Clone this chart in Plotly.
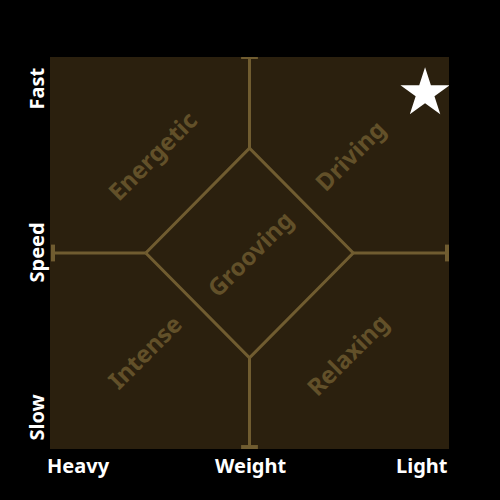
import plotly.graph_objects as go

# axes: weight (heavy -> light) and speed (slow -> fast), both -1..1
x_labels = ["Heavy", "Weight", "Light"]
y_labels = ["Slow", "Speed", "Fast"]

# diamond outline (Grooving zone)
diamond_x = [-0.52, 0, 0.52, 0, -0.52]
diamond_y = [0, 0.535, 0, -0.535, 0]

# spokes from diamond to the axis ends
spokes = [
    ([0, 0], [0.535, 1.0]),
    ([0, 0], [-0.535, -0.99]),
    ([-0.52, -0.985], [0, 0]),
    ([0.52, 0.99], [0, 0]),
]
caps_x = [0, 0, -0.985, 0.99]
caps_y = [1.0, -0.99, 0, 0]
caps_sym = ["line-ew", "line-ew", "line-ns", "line-ns"]

moods = ["Energetic", "Driving", "Grooving", "Intense", "Relaxing"]
mood_x = [-0.49, 0.5, 0.0, -0.525, 0.49]
mood_y = [0.5, 0.5, 0.0, -0.505, -0.52]

# current track position
star_x = [0.88]
star_y = [0.815]

line_col = "#705c30"
text_col = "#625029"

fig = go.Figure()

fig.add_trace(go.Scatter(x=diamond_x, y=diamond_y, mode="lines",
                         line=dict(color=line_col, width=3), hoverinfo="skip"))
for sx, sy in spokes:
    fig.add_trace(go.Scatter(x=sx, y=sy, mode="lines",
                             line=dict(color=line_col, width=3), hoverinfo="skip"))
fig.add_trace(go.Scatter(x=caps_x, y=caps_y, mode="markers",
                         marker=dict(symbol=caps_sym, size=12,
                                     line=dict(color=line_col, width=4)),
                         hoverinfo="skip"))
fig.add_trace(go.Scatter(x=star_x, y=star_y, mode="markers",
                         marker=dict(symbol="star", size=37, color="white",
                                     line=dict(width=0))))

for name, mx, my in zip(moods, mood_x, mood_y):
    fig.add_annotation(x=mx, y=my, text="<b>%s</b>" % name, showarrow=False,
                       textangle=-45, font=dict(size=24, color=text_col))

# weight labels along the bottom
for lab, px, anc in zip(x_labels, [0, 0.5, 1], ["left", "center", "right"]):
    fig.add_annotation(x=px, y=0, xref="paper", yref="paper", text="<b>%s</b>" % lab,
                       showarrow=False, xanchor=anc, yanchor="top", yshift=-1,
                       xshift=-5 if anc == "left" else 1,
                       font=dict(size=20, color="white"))

# speed labels up the side
for lab, py, anc in zip(y_labels, [0, 0.5, 1], ["bottom", "middle", "top"]):
    fig.add_annotation(x=0, y=py, xref="paper", yref="paper", text="<b>%s</b>" % lab,
                       showarrow=False, xanchor="right", yanchor=anc, xshift=1,
                       yshift=6 if anc == "bottom" else (-9 if anc == "top" else 0),
                       textangle=-90, font=dict(size=20, color="white"))

fig.update_layout(
    width=500, height=500,
    paper_bgcolor="black",
    plot_bgcolor="#2b200e",
    showlegend=False,
    font=dict(family="Noto Sans"),
    margin=dict(l=50, r=51, t=57, b=51),
)
fig.update_xaxes(range=[-1, 1], visible=False, fixedrange=True)
fig.update_yaxes(range=[-1, 1], visible=False, fixedrange=True)

fig.write_html("out.html", config={"displayModeBar": False},
               post_script="document.body.style.margin='0';")
